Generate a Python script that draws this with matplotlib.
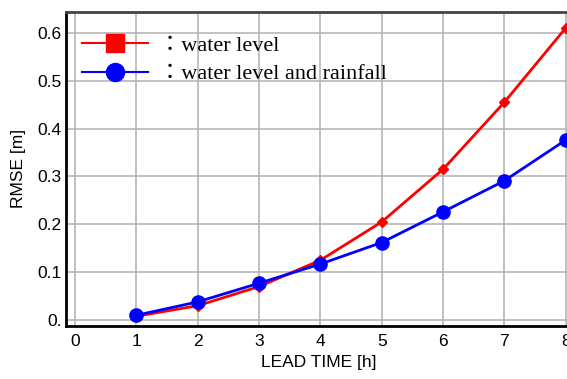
import matplotlib.pyplot as plt
from matplotlib.lines import Line2D
from matplotlib.ticker import FixedLocator, FixedFormatter

lead_time = [1, 2, 3, 4, 5, 6, 7, 8]
rmse_wl = [0.008, 0.030, 0.070, 0.125, 0.205, 0.315, 0.455, 0.610]
rmse_wl_rain = [0.010, 0.038, 0.077, 0.117, 0.162, 0.226, 0.291, 0.376]
y_ticks = [0.0, 0.1, 0.2, 0.3, 0.4, 0.5, 0.6]
y_labels = ["0.", "0.1", "0.2", "0.3", "0.4", "0.5", "0.6"]
label_wl = "\uff1awater level"
label_rain = "\uff1awater level and rainfall"

plt.rcParams["font.family"] = ["Liberation Sans", "DejaVu Sans"]

fig = plt.figure(figsize=(5.67, 3.79), dpi=100)
ax = fig.add_axes([0.1164, 0.1398, 0.892, 0.829])

ax.plot(lead_time, rmse_wl, "-D", color="red", lw=2, ms=5, clip_on=False, zorder=3)
ax.plot(lead_time, rmse_wl_rain, "-o", color="blue", lw=2, ms=9.5, clip_on=False, zorder=4)

ax.set_xlim(-0.15, 8.1)
ax.set_ylim(-0.0125, 0.644)
ax.set_xticks(range(0, 9))
ax.yaxis.set_major_locator(FixedLocator(y_ticks))
ax.yaxis.set_major_formatter(FixedFormatter(y_labels))
ax.tick_params(length=0, labelsize=12.5)
ax.tick_params(axis="y", pad=3)
ax.tick_params(axis="x", pad=6)
ax.grid(True, color="#b0b0b0", lw=1.1)
ax.set_axisbelow(True)

for side in ["left", "bottom"]:
    ax.spines[side].set_linewidth(2)
    ax.spines[side].set_color("black")
ax.spines["top"].set_linewidth(2)
ax.spines["top"].set_color("#444444")
ax.spines["right"].set_visible(False)

ax.set_xlabel("LEAD TIME [h]", fontsize=12.5)
ax.set_ylabel("RMSE [m]", fontsize=12.5, labelpad=8)

handles = [
    Line2D([], [], color="red", marker="s", ms=13, lw=1.5),
    Line2D([], [], color="blue", marker="o", ms=13, lw=1.5),
]
leg = ax.legend(handles, [label_wl, label_rain], loc="upper left",
                bbox_to_anchor=(0.0, 0.975), frameon=False, handlelength=3.0,
                labelspacing=0.36, handletextpad=0.5, borderaxespad=0.3,
                prop={"family": ["Liberation Serif", "Noto Sans CJK JP"], "size": 16})

fig.savefig("out.png", dpi=100)
